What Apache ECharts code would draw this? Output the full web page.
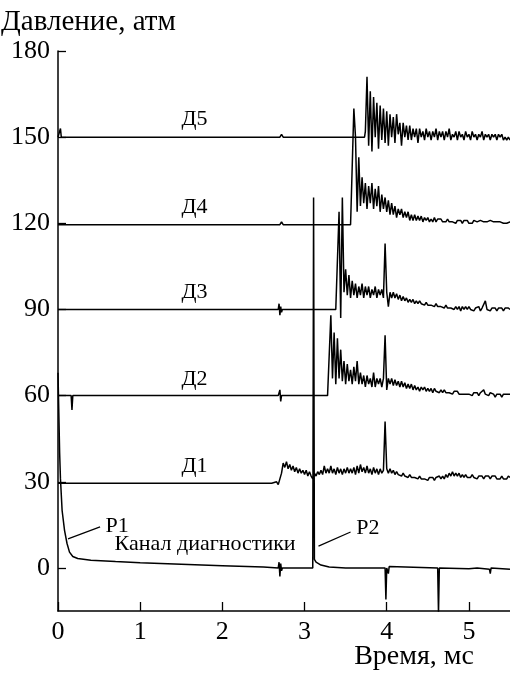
<!DOCTYPE html>
<html><head><meta charset="utf-8">
<script src="https://cdn.jsdelivr.net/npm/echarts@6/dist/echarts.min.js"></script>
<style>html,body{margin:0;padding:0;background:#fff}#c{width:510px;height:673px}</style>
</head><body><div id="c"></div>
<script>
// ---- data (time in ms, pressure in atm) ----
const xTicks = [0, 1, 2, 3, 4, 5];
const yTicks = [0, 30, 60, 90, 120, 150, 180];
const seriesNames = ['Д1', 'Д2', 'Д3', 'Д4', 'Д5'];
const step = 0.02;

// Diagnostic channel (sparse pairs [t, p])
const diagPairs = [[0,68],[0.02,40],[0.03,31],[0.05,20],[0.08,13],[0.11,8.5],[0.14,5.5],[0.18,4],[0.24,3.3],[0.4,2.7],[0.7,2.2],[1.0,1.8],[1.5,1.3],[2.0,0.8],[2.5,0.3],[2.68,0],[2.69,2],[2.70,-3],[2.71,1.5],[2.72,-1],[2.73,0],[3.10,0],[3.11,129],[3.12,3],[3.14,2],[3.2,1],[3.3,0.3],[3.5,0],[3.98,0],[3.99,-11],[4.00,0],[4.02,-2],[4.03,0.5],[4.04,0],[4.62,0],[4.63,-16],[4.64,0],[5.0,-0.3],[5.1,0],[5.25,-0.5],[5.26,-2],[5.27,0],[5.5,-0.5]];

// Д1
const d1Head = [[0,29.5],[2.6,29.5],[2.66,30]];
const d1Start = 2.68;
const d1Burst = [29,31,33,36.5,35,37,34.5,36,34,35.5,33.5,35,33,34.5,33,34,32.5,34,32,33.5,32,31,33,32,33.5,32.5,34,32.5,35.5,33,34.5,33,35.5,33,34.5,32.5,35,33,34.5,32.5,34.5,33,35,33,34.5,33,35,32.5,35.5,33,36,33.5,35,33,35.5,33,34.5,32.5,35,33,34.5,32.5,34.5,33,34,51,34.5,33,34.5,33,34,32.5,33.5,32.5,33,32,33,32,32.5,31.5,32.5,31.5,32,31.5,32,31,32,31,31.5,31,31.5,30.5,31.5,31,31.5,30.5,31.5,31,32,31,32,31,32.5,31.5,33,32,33.5,32,33,32,33,31.5,32.5,31.5,32.5,31.5,32,31.5,32.5,31.5,32,31,32,31.5,32,31,32,31.5,32,31,32,31.5,32,31,31.5,31,32,31,31.5,31,32,31.5];

// Д2
const d2Head = [[0,60],[0.16,60],[0.17,55],[0.18,60],[2.68,60],[2.70,62],[2.71,58],[2.72,60],[3.28,60]];
const d2Start = 3.30;
const d2Burst = [60,88,66,82,64,80,66,76,65,72,64,71,65,69,64,70,65,72,64,68,64,67,63,67,64,66,63,68,63,66,64,66,63,66,81,62,66,64,66,63.5,65.5,63.5,65,63,65,63,64.5,62.5,64,62.5,64,62,63.5,62,63,61.5,63,62,63,61.5,62.5,61.5,62.5,61,62.5,61.5,62,61,62,61,62,61,61.5,61,61.5,60.5,61.5,61,61.5,60.5,61,60.5,61,60.5,61,60.5,61,60,61,60.5,61,60,61,60.5,62,60.5,61,60,61,60.5,60.5,59.5,60.5,60,60.5,59.5,60.5,60,60.5,60,60.5];

// Д3
const d3Head = [[0,90],[2.68,90],[2.69,92],[2.70,88],[2.71,91],[2.72,89],[2.73,90],[3.38,90]];
const d3Start = 3.40;
const d3Burst = [90,124,87,129,96,104,95,102,94,100,95,99,94,98,95,99,94,98,95,98,94,97,95,98,94,97,95,97,94,113,96,91,96,94,96,94,95.5,93.5,95,93,94.5,93,94,92.5,93.5,92.5,93.5,92,93,92,93,92,92.5,91.5,92.5,91.5,92,91.5,92,91,92,91,91.5,91,91.5,90.5,91.5,90.5,91,90.5,91,90,91,90,91,89.5,91,90,91,90,91,90,90.5,89.5,90.5,90,91,89.5,90.5,90,93,90,90.5,89.5,90.5,90,90.5,89.5,90.5,90,90.5,89.5,90.5,90,90.5,90];

// Д4
const d4Head = [[0,119.5],[2.7,119.5],[2.72,120.5],[2.74,119.5],[3.56,119.5]];
const d4Start = 3.58;
const d4Burst = [119,160,150,124,143,126,136,127,134,125,133,127,134,125,132,126,133,124,130,125,129,124,128,123,127,123,126,122,125,123,125,122,124,122,124,121,123,121,123,121,122.5,121,122.5,120.5,122,121,122,120.5,121.5,120.5,122,120.5,121.5,121,121.5,120.5,121,120.5,121.5,120.5,121,120.5,121,120,121,120.5,121,120,121,120.5,121,120,120.5,120,121,120.5,120.5,120,121,120.5,120.5,120,120.5,120,121,120.5,120.5,120,120.5,120,120.5,120.5,120,120.5,120,120.5,120.5,120];

// Д5
const d5Head = [[0,150],[0.02,150],[0.03,153],[0.04,150],[2.7,150],[2.72,151],[2.74,150],[3.73,150]];
const d5Start = 3.74;
const d5Burst = [152,171,147,166,145,164,150,162,146,161,149,160,148,159,147,158,150,157,148,158,151,155,147,155,150,154,149,154,149,153,150,153,148,153,150,152,149,153,150,152,149,152,150,153,149,152,150,152,149,152,150,153,149,151,150,152,149,152,150,151,149,152,150,151,149,152,150,151,149,151,150,152,149,151,150,151,149,151,150,151,149,151,150,151,149,150,149,150,149];

// ---- build ----
function build(head, start, burst) {
  const out = head.slice();
  burst.forEach((v, i) => out.push([+(start + i * step).toFixed(3), v]));
  return out;
}
const FONT = "'Liberation Serif','Times New Roman',serif";
const lineStyle = { color: '#000', width: 1.5 };
function mkSeries(name, data, extra) {
  return Object.assign({
    name, type: 'line', data, showSymbol: false, symbol: 'none',
    lineStyle, sampling: null, animation: false, silent: true, z: 3
  }, extra || {});
}
function tag(text, coord, size) {
  return { coord, value: 0, symbol: 'circle', symbolSize: 2, itemStyle: { color: 'rgba(0,0,0,0)' },
    label: { show: true, formatter: text, position: 'inside', color: '#000', fontFamily: FONT, fontSize: size || 22 } };
}
function marks(list) {
  return { silent: true, animation: false, data: list };
}

const chart = echarts.init(document.getElementById('c'), null, { renderer: 'canvas' });
chart.setOption({
  animation: false,
  backgroundColor: '#fff',
  grid: { left: 58, right: 0, top: 51, bottom: 62, containLabel: false },
  xAxis: {
    type: 'value', min: 0, max: 5.5,
    axisLine: { show: true, onZero: false, lineStyle: { color: '#000', width: 1.5 } },
    axisTick: { show: true, inside: true, length: 9, customValues: xTicks, lineStyle: { color: '#000', width: 1.3 } },
    axisLabel: { customValues: xTicks, color: '#000', fontFamily: FONT, fontSize: 26, margin: 8 },
    splitLine: { show: false }
  },
  yAxis: {
    type: 'value', min: -15, max: 180,
    axisLine: { show: true, onZero: false, lineStyle: { color: '#000', width: 1.5 } },
    axisTick: { show: true, inside: true, length: 8, customValues: yTicks, lineStyle: { color: '#000', width: 1.3 } },
    axisLabel: { customValues: yTicks, color: '#000', fontFamily: FONT, fontSize: 26, margin: 8 },
    splitLine: { show: false }
  },
  graphic: [
    { type: 'text', left: 1, top: 8, style: { text: 'Давление, атм', font: '29px ' + FONT, fill: '#000' } },
    { type: 'text', right: 36, bottom: 2, style: { text: 'Время, мс', font: '28px ' + FONT, fill: '#000' } }
  ],
  series: [
    mkSeries('Канал диагностики', diagPairs, {
      markPoint: marks([tag('Канал диагностики', [1.79, 8.3], 22), tag('P1', [0.72, 14.6], 22), tag('P2', [3.77, 13.9], 22)]),
      markLine: { silent: true, animation: false, symbol: 'none', label: { show: false }, lineStyle: { color: '#000', width: 1.2, type: 'solid' },
        data: [[{ coord: [0.122, 10.1] }, { coord: [0.512, 14.3] }], [{ coord: [3.17, 7.6] }, { coord: [3.56, 12.5] }]] }
    }),
    mkSeries(seriesNames[0], build(d1Head, d1Start, d1Burst), { markPoint: marks([tag('Д1', [1.66, 35.5])]) }),
    mkSeries(seriesNames[1], build(d2Head, d2Start, d2Burst), { markPoint: marks([tag('Д2', [1.66, 65.7])]) }),
    mkSeries(seriesNames[2], build(d3Head, d3Start, d3Burst), { markPoint: marks([tag('Д3', [1.66, 96])]) }),
    mkSeries(seriesNames[3], build(d4Head, d4Start, d4Burst), { markPoint: marks([tag('Д4', [1.66, 125.5])]) }),
    mkSeries(seriesNames[4], build(d5Head, d5Start, d5Burst), { markPoint: marks([tag('Д5', [1.66, 156.1])]) })
  ]
});
</script></body></html>
